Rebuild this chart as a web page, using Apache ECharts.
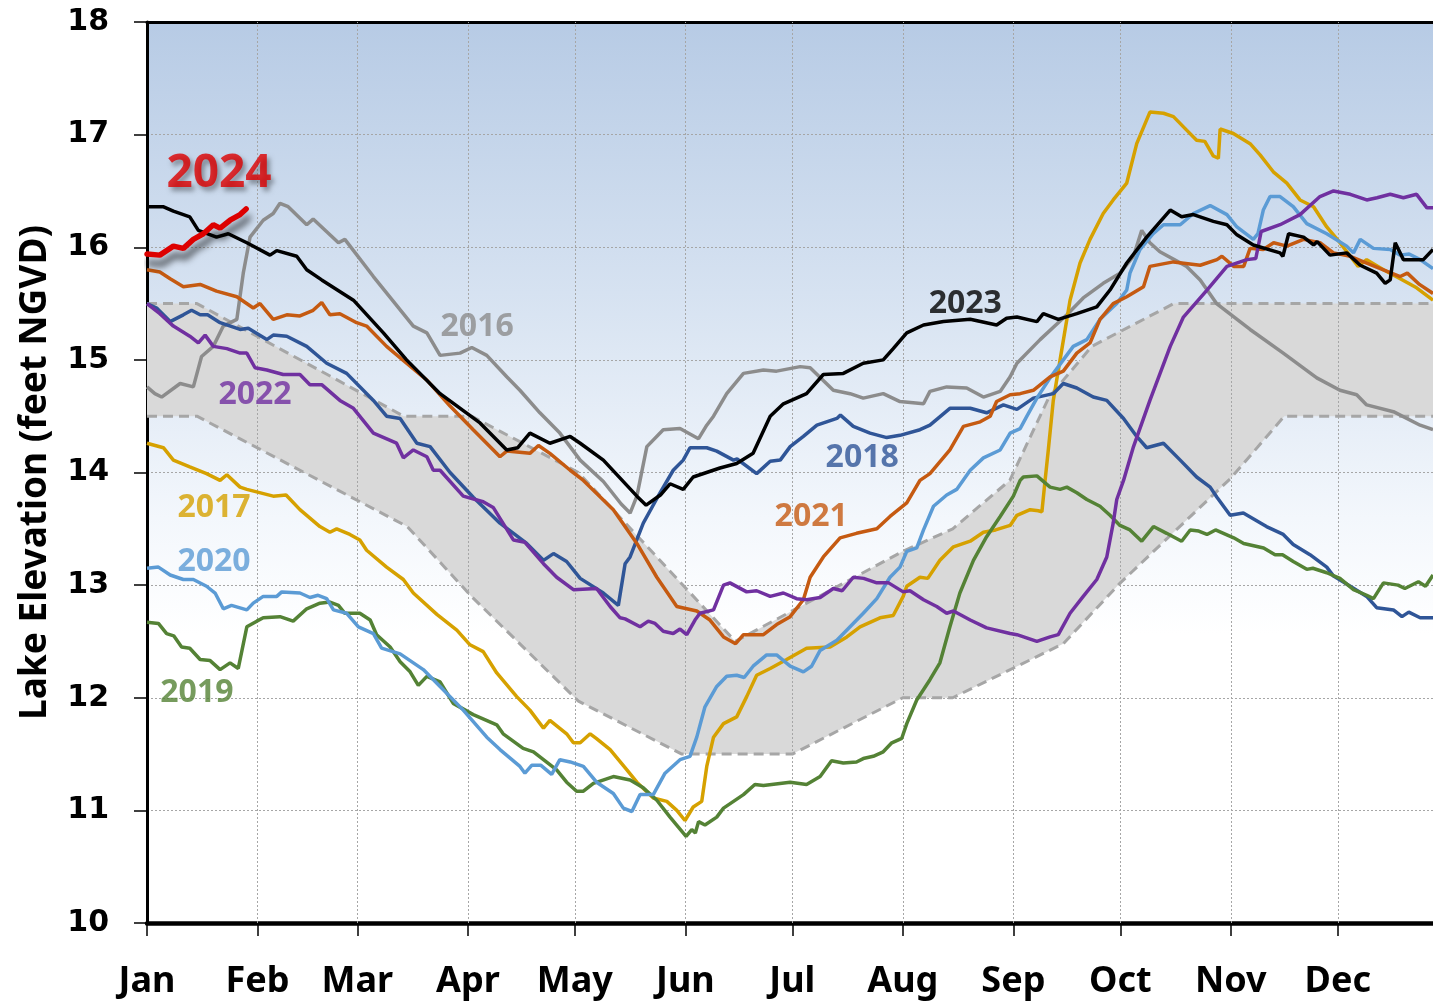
<!DOCTYPE html>
<html>
<head>
<meta charset="utf-8">
<script src="https://cdn.jsdelivr.net/npm/echarts@6/dist/echarts.min.js"></script>
<style>
html,body{margin:0;padding:0;background:#fff;}
#chart{width:1433px;height:1001px;}
</style>
</head>
<body>
<div id="chart"></div>
<script>
// ---- axis definitions ----
const monthDays = [0, 31, 59, 90, 120, 151, 181, 212, 243, 273, 304, 334];
const monthNames = ['Jan','Feb','Mar','Apr','May','Jun','Jul','Aug','Sep','Oct','Nov','Dec'];
const yTicks = [10, 11, 12, 13, 14, 15, 16, 17, 18];

// ---- regulation band (day of year, feet NGVD) ----
const bandUpper = [[0,15.5],[14,15.5],[72,14.5],[91,14.5],[121,14.0],[165,12.5],[212,13.3],[226,13.5],[242,13.93],[253,14.67],[265,15.12],[288,15.5],[361,15.5]];
const bandLower = [[0,14.5],[14,14.5],[73,13.52],[91,12.9],[121,11.97],[150,11.5],[181,11.5],[212,12.0],[226,12.0],[257,12.48],[273,13.02],[304,13.95],[319,14.5],[361,14.5]];

// ---- yearly lake elevations ----
const y2016 = [[0,14.76],[2.2,14.70],[4.1,14.67],[9.3,14.79],[13,14.76],[15.3,15.03],[18.6,15.12],[21.4,15.30],[25.2,15.36],[27,15.77],[28.9,16.09],[32.6,16.24],[35.4,16.30],[37.3,16.39],[39.6,16.36],[44.8,16.20],[46.6,16.25],[53.7,16.04],[55.5,16.07],[63.5,15.74],[74.7,15.30],[78.5,15.24],[82.2,15.04],[87.8,15.06],[91.1,15.11],[95.3,15.04],[100.9,14.85],[104.6,14.73],[110.2,14.53],[115.8,14.35],[121.5,14.11],[128,13.92],[133,13.72],[135.5,13.64],[137.4,13.79],[140.2,14.23],[144.8,14.38],[149.5,14.39],[154.7,14.30],[157,14.42],[158.9,14.50],[162.6,14.70],[167.3,14.88],[172.9,14.91],[176.6,14.90],[183.2,14.94],[186,14.93],[192.5,14.73],[197.2,14.70],[200.9,14.66],[206.5,14.70],[211.2,14.63],[217.8,14.61],[219.6,14.72],[224.3,14.76],[229.9,14.75],[234.6,14.67],[239.3,14.72],[242.1,14.85],[244,14.97],[250.5,15.18],[258,15.40],[262.6,15.55],[268.2,15.68],[272.9,15.77],[276.7,15.92],[279,16.15],[281.3,16.04],[284.1,15.96],[291.6,15.83],[295.4,15.71],[300,15.50],[309.4,15.27],[318.7,15.06],[328.1,14.84],[334.6,14.73],[339.3,14.69],[342.1,14.60],[349.6,14.54],[357.1,14.42],[360.7,14.38]];
const y2017 = [[0,14.26],[4.6,14.22],[7.4,14.11],[12,14.05],[16.7,13.99],[20.5,13.93],[22.4,13.98],[26.1,13.87],[28,13.85],[35.4,13.79],[39,13.80],[42.9,13.67],[48.5,13.52],[51.3,13.47],[53.2,13.50],[56.9,13.45],[59.7,13.40],[61.6,13.31],[67.2,13.16],[71.9,13.05],[74.7,12.93],[81.3,12.74],[86.9,12.60],[90.6,12.47],[94.3,12.41],[98.1,12.22],[103.7,12.01],[107.4,11.89],[111.2,11.73],[113,11.80],[117.7,11.68],[119.6,11.60],[121.5,11.60],[124.3,11.68],[126,11.64],[129.9,11.54],[134.6,11.36],[137.4,11.25],[142,11.11],[145.8,11.08],[148.6,11.00],[150.9,10.91],[153.2,11.03],[155.6,11.08],[157,11.39],[158.9,11.65],[161.7,11.77],[165.4,11.83],[168.2,12.01],[171,12.20],[174.8,12.26],[179.4,12.34],[185,12.44],[191.6,12.45],[196.3,12.54],[200,12.63],[205.6,12.71],[209.3,12.73],[212.1,12.90],[213.1,12.99],[216.8,13.07],[219,13.06],[222.4,13.22],[226.2,13.34],[230.9,13.39],[234.6,13.47],[238,13.49],[242.1,13.53],[244,13.62],[247.7,13.67],[250,13.66],[251,13.65],[251.9,13.93],[252.8,14.20],[254.2,14.64],[256.1,15.0],[258.9,15.53],[261.7,15.86],[264.5,16.07],[268.2,16.30],[271,16.42],[274.8,16.57],[277.6,16.92],[281.3,17.20],[285.1,17.19],[287.9,17.16],[291.6,17.04],[294.4,16.95],[296.7,16.94],[299.1,16.81],[300.5,16.79],[301,17.05],[304.7,17.01],[309.4,16.92],[312.2,16.82],[315.9,16.67],[319.7,16.57],[323.4,16.42],[327.2,16.36],[330.9,16.18],[334.6,16.04],[339.7,15.83],[342.1,15.89],[346.8,15.80],[351.5,15.72],[356.1,15.64],[360.7,15.53]];
const y2018 = [[0,15.50],[2.7,15.46],[6.5,15.34],[10.2,15.40],[12.5,15.44],[14.9,15.40],[17,15.40],[20.5,15.33],[26.1,15.27],[28.4,15.28],[33.6,15.18],[35.4,15.22],[39.2,15.21],[44.8,15.12],[50.4,14.97],[56,14.88],[63.5,14.64],[67.2,14.50],[71,14.48],[75.7,14.26],[79.4,14.23],[85,14.0],[91.5,13.78],[99,13.55],[106.5,13.37],[111.2,13.22],[114,13.28],[117.7,13.21],[121.5,13.06],[128,12.93],[132.2,12.82],[134.1,13.19],[135.5,13.25],[139.2,13.55],[143.9,13.82],[147.6,14.02],[150.4,14.11],[152.3,14.22],[157,14.22],[159.8,14.19],[164.5,14.11],[165.5,14.12],[171,13.99],[174.8,14.10],[177.6,14.11],[180.4,14.23],[184.1,14.32],[187.9,14.42],[193.5,14.48],[194.5,14.51],[198.1,14.41],[202.8,14.35],[207.5,14.31],[211.2,14.33],[216.8,14.38],[219.6,14.42],[225.2,14.57],[230.9,14.57],[235.5,14.53],[240.2,14.60],[244,14.56],[248.6,14.66],[254.2,14.70],[257,14.79],[260.8,14.75],[265.4,14.67],[269.2,14.64],[273.9,14.48],[277.6,14.32],[280.4,14.22],[285.1,14.26],[289.8,14.11],[294.4,13.96],[298.2,13.87],[300.1,13.78],[303.8,13.62],[307.5,13.64],[314,13.52],[318.7,13.45],[321.5,13.36],[326.2,13.27],[330.9,13.16],[332.8,13.08],[337.5,12.99],[342.1,12.90],[344.9,12.80],[349.6,12.78],[352,12.72],[353.9,12.76],[357.1,12.71],[360.7,12.71]];
const y2019 = [[0,12.67],[3.2,12.66],[5.5,12.57],[7.5,12.55],[9.7,12.45],[12,12.44],[14.9,12.34],[17.7,12.33],[20.5,12.25],[23.3,12.31],[25.6,12.26],[28,12.63],[30.8,12.68],[32.6,12.71],[37.3,12.72],[41,12.68],[44.8,12.79],[48.5,12.84],[51.3,12.85],[53.7,12.82],[55.5,12.75],[59.7,12.75],[62.6,12.69],[64.4,12.56],[68.2,12.45],[71,12.32],[73.8,12.23],[76.1,12.11],[78.5,12.19],[82.2,12.14],[85.9,11.95],[91.5,11.85],[98.1,11.76],[99.9,11.68],[105.5,11.55],[108.4,11.52],[114.9,11.36],[117.7,11.25],[120.5,11.17],[122.4,11.17],[125.2,11.24],[130.8,11.30],[135.5,11.27],[139.2,11.20],[143,11.09],[146.7,10.94],[151.2,10.77],[152.8,10.83],[153.8,10.80],[154.7,10.90],[156.5,10.87],[159.8,10.94],[161.7,11.02],[167.3,11.14],[170.5,11.23],[172.9,11.22],[180.4,11.25],[185,11.23],[188.8,11.30],[192,11.44],[195.3,11.42],[199,11.43],[200.9,11.46],[203.7,11.48],[206.5,11.52],[208.9,11.60],[211.7,11.64],[213.1,11.77],[215.9,11.98],[219.6,12.16],[222.4,12.31],[225.2,12.63],[228,12.93],[231.8,13.22],[235.5,13.43],[239.3,13.61],[243,13.79],[244.9,13.93],[245.8,13.96],[249.6,13.97],[253.3,13.87],[256.1,13.85],[258,13.87],[260.8,13.82],[263.6,13.76],[267.3,13.70],[270.1,13.62],[272.9,13.53],[275.7,13.49],[279,13.39],[282.3,13.52],[286,13.46],[290.2,13.39],[292.6,13.49],[295,13.48],[297.3,13.45],[299.7,13.49],[304.8,13.42],[307.6,13.37],[313.2,13.33],[316.4,13.27],[318.5,13.27],[321.5,13.21],[325.3,13.14],[327,13.15],[330.9,13.11],[334.6,13.06],[338.4,12.96],[342.1,12.91],[344,12.88],[346.8,13.02],[350.9,13.00],[352.8,12.97],[356.6,13.03],[358.6,12.99],[360.7,13.09]];
const y2020 = [[0,13.15],[3.2,13.16],[6.5,13.09],[10.2,13.05],[13,13.05],[16.7,12.99],[19.1,12.93],[21.4,12.79],[23.7,12.82],[28,12.78],[29.8,12.84],[32.6,12.90],[36.4,12.90],[37.8,12.94],[42.9,12.93],[45.7,12.89],[48,12.91],[50.4,12.88],[52.3,12.78],[56,12.75],[59.3,12.63],[63.5,12.57],[65.8,12.44],[71,12.39],[77.5,12.25],[82.2,12.10],[88.7,11.89],[95.3,11.65],[99,11.54],[104.6,11.39],[106,11.33],[107.9,11.40],[110.5,11.40],[113.5,11.32],[115.8,11.45],[118.7,11.43],[122.4,11.39],[126.1,11.25],[130.8,11.15],[133.6,11.02],[136,10.99],[138.3,11.14],[142,11.14],[145.3,11.33],[149.5,11.45],[152.3,11.48],[154.2,11.65],[156.5,11.92],[159.8,12.10],[162.6,12.19],[165.4,12.20],[167.5,12.18],[170,12.28],[173.8,12.38],[176.6,12.38],[180.4,12.28],[184.1,12.23],[186.4,12.28],[188.8,12.42],[193.5,12.51],[197.2,12.63],[200.9,12.75],[204.7,12.88],[208.4,13.07],[211.2,13.16],[213.1,13.30],[215.9,13.33],[217.8,13.49],[220.6,13.70],[224.3,13.80],[227.1,13.85],[230.9,14.02],[234.6,14.13],[239.3,14.20],[242.1,14.35],[244.9,14.39],[246.8,14.50],[249.6,14.66],[253.3,14.84],[257,15.0],[259.8,15.12],[263.6,15.18],[267.3,15.36],[272,15.50],[274.8,15.62],[275.7,15.77],[278.5,15.98],[282.2,16.12],[285.1,16.20],[289.8,16.20],[293.5,16.30],[298.2,16.37],[302.9,16.29],[305.7,16.18],[310.3,16.07],[311.6,16.12],[313.1,16.33],[315,16.45],[317.8,16.45],[321.5,16.36],[325.3,16.21],[330.9,16.12],[336.5,16.01],[338.4,15.95],[340.3,16.07],[344,15.99],[348.7,15.98],[351.5,15.93],[354,15.94],[357.1,15.89],[360.7,15.81]];
const y2021 = [[0,15.80],[3.6,15.78],[6.5,15.72],[10.2,15.65],[14.9,15.67],[19.5,15.61],[25.2,15.56],[29.8,15.46],[31.7,15.50],[35.4,15.36],[39.2,15.40],[42.9,15.39],[46.6,15.44],[49,15.51],[51.3,15.40],[54.1,15.41],[58.8,15.33],[61.6,15.30],[67.2,15.12],[72.8,14.97],[78.5,14.82],[85,14.59],[91.5,14.38],[99,14.14],[100.9,14.19],[107.4,14.17],[109.8,14.24],[113,14.17],[118.7,14.02],[122.4,13.93],[130.8,13.67],[137.4,13.37],[143,13.07],[148.6,12.81],[154.2,12.77],[157.9,12.69],[161.7,12.54],[165.1,12.48],[167.3,12.56],[172.9,12.56],[176.6,12.65],[180.4,12.72],[184.1,12.87],[186,13.07],[189.7,13.25],[194.4,13.42],[199,13.46],[204.7,13.50],[208.4,13.61],[213.1,13.73],[216.8,13.93],[219.6,13.99],[225.2,14.20],[229,14.41],[233.7,14.45],[236.5,14.50],[238.3,14.63],[242.1,14.69],[244.9,14.70],[248.6,14.73],[253.3,14.85],[257,14.90],[260.8,15.06],[264.5,15.15],[267.3,15.36],[271,15.50],[274.8,15.56],[279.5,15.65],[281.3,15.83],[287.9,15.87],[295.4,15.84],[300.1,15.89],[301.5,15.92],[304.8,15.83],[307.6,15.83],[309.4,15.99],[313.1,15.98],[316,16.04],[319.7,16.01],[324.4,16.07],[329,16.04],[332.8,15.95],[337.5,15.92],[342.1,15.86],[351.5,15.74],[353.5,15.77],[356.9,15.67],[360.7,15.59]];
const y2022 = [[0,15.50],[3.6,15.41],[7.4,15.30],[12,15.21],[14.4,15.15],[16.3,15.22],[18.6,15.12],[22.4,15.10],[26.1,15.06],[28,15.06],[30.3,14.93],[33.6,14.91],[38.2,14.87],[42.9,14.87],[45.7,14.78],[49,14.78],[54.1,14.64],[57.9,14.57],[63.5,14.35],[70,14.26],[71.9,14.13],[74.7,14.20],[78.5,14.14],[80.3,14.02],[82.2,14.02],[88.7,13.79],[94.3,13.74],[97.1,13.69],[102.8,13.40],[106,13.38],[111.2,13.19],[114.9,13.07],[119.6,12.96],[126.1,12.97],[129.9,12.81],[132.7,12.71],[134.1,12.70],[138.3,12.63],[140.6,12.68],[142.5,12.66],[144.8,12.59],[147.6,12.57],[149.5,12.61],[151.4,12.56],[153.7,12.69],[155.1,12.75],[158.9,12.78],[161.7,13.00],[163.5,13.02],[168.2,12.94],[171,12.95],[174.8,12.90],[178.5,12.93],[182.2,12.88],[185,12.87],[188.8,12.89],[192.5,12.97],[195,12.95],[198.1,13.07],[201,13.06],[204.7,13.02],[208,13.02],[212.1,12.94],[214,12.95],[217.8,12.87],[221.5,12.81],[224.3,12.75],[226.2,12.77],[230.9,12.69],[235.5,12.62],[242.1,12.57],[244,12.56],[249.6,12.50],[253.3,12.54],[255.6,12.56],[258.9,12.75],[262.6,12.90],[266.4,13.05],[269.2,13.25],[271,13.55],[272,13.76],[273.9,13.93],[276.7,14.23],[281.3,14.64],[287,15.12],[290.7,15.38],[297.3,15.62],[302.9,15.83],[308.5,15.89],[311,15.90],[312.5,16.14],[317.8,16.20],[323.4,16.29],[329,16.45],[332.8,16.50],[337.5,16.47],[342.1,16.42],[345,16.44],[348.7,16.47],[352.4,16.44],[356.1,16.47],[359,16.35],[360.7,16.35]];
const y2023 = [[0,16.36],[4.5,16.36],[7.4,16.32],[12,16.27],[14.4,16.15],[19.5,16.09],[22.8,16.12],[28,16.04],[34.5,15.93],[36.4,15.97],[42,15.92],[44.8,15.80],[49,15.71],[57.9,15.53],[66.3,15.24],[72.8,15.0],[82.2,14.70],[93.4,14.44],[100.9,14.20],[104,14.22],[107.4,14.35],[113,14.26],[118.7,14.32],[121.5,14.26],[128,14.11],[137.4,13.79],[140,13.71],[144,13.80],[146.7,13.90],[150.4,13.85],[153.2,13.96],[160.7,14.04],[165.4,14.08],[170,14.17],[174.8,14.5],[178.5,14.61],[185,14.70],[189.7,14.87],[195.3,14.88],[200.9,14.97],[206.5,15.0],[209.3,15.10],[213.1,15.24],[217.8,15.31],[223.4,15.34],[230.9,15.36],[238.3,15.31],[241.1,15.37],[244,15.38],[249.6,15.34],[251.4,15.41],[255.6,15.36],[260.8,15.41],[266.4,15.47],[270.1,15.62],[274.8,15.86],[280.4,16.09],[287,16.33],[290.2,16.27],[293.5,16.29],[299.1,16.23],[302.9,16.20],[305.7,16.11],[310.3,16.02],[317.8,15.95],[318.6,15.92],[320.2,16.12],[324.4,16.09],[327.2,16.02],[328.2,16.05],[331.8,15.93],[336.5,15.95],[340.3,15.84],[344.9,15.77],[347.3,15.68],[348.7,15.71],[350.1,16.04],[352.4,15.89],[358,15.89],[360.7,15.98]];
const y2024 = [[0,15.94],[3.6,15.93],[7.4,16.01],[10.2,15.99],[13,16.07],[15.8,16.12],[18.6,16.20],[20.5,16.17],[23.3,16.24],[26.1,16.29],[27.8,16.34]];

// ---- series labels (text, day, elevation) ----
const labelTexts = ['2016','2022','2017','2020','2019','2023','2018','2021','2024'];
const labelDays  = [92.6, 30.3, 18.8, 18.8, 14.0, 229.5, 200.6, 186.3, 20.2];
const labelVals  = [15.29, 14.69, 13.69, 13.21, 12.04, 15.50, 14.13, 13.61, 16.65];

const colors = {
  '2016':'#8c8c8c','2017':'#d6a100','2018':'#2f5597','2019':'#548235','2020':'#5b9bd5',
  '2021':'#c55a11','2022':'#7030a0','2023':'#000000','2024':'#dd0000'
};
const yearData = {'2016':y2016,'2017':y2017,'2018':y2018,'2019':y2019,'2020':y2020,'2021':y2021,'2022':y2022,'2023':y2023,'2024':y2024};

const chart = echarts.init(document.getElementById('chart'), null, {renderer:'canvas'});

const lineSeries = Object.keys(yearData).map(yr => ({
  name: yr, type:'line', data: yearData[yr], showSymbol:false, symbol:'none',
  z: yr === '2024' ? 8 : 5,
  lineStyle: yr === '2024'
    ? {color: colors[yr], width: 5.5, shadowColor:'rgba(0,0,0,0.65)', shadowBlur:7, shadowOffsetX:2, shadowOffsetY:9, cap:'round'}
    : {color: colors[yr], width: 3.5}
}));

const option = {
  animation: false,
  backgroundColor: '#ffffff',
  grid: {
    left: 147, right: 0, top: 22, bottom: 78, show: true, borderWidth: 0,
    backgroundColor: new echarts.graphic.LinearGradient(0,0,0,1,[
      {offset:0, color:'#b7cbe5'},
      {offset:0.3, color:'#d6e2f1'},
      {offset:0.55, color:'#f3f7fc'},
      {offset:0.68, color:'#ffffff'},
      {offset:1, color:'#ffffff'}
    ])
  },
  xAxis: [{
    type:'value', min:0, max:360.7, position:'bottom',
    axisLine:{show:true, onZero:false, lineStyle:{color:'#000', width:4.5}},
    axisTick:{show:true, customValues: monthDays, length:13, lineStyle:{color:'#000', width:1.5}},
    axisLabel:{show:true, customValues: monthDays, margin:41,
      formatter: v => monthNames[monthDays.indexOf(v)] || '',
      fontFamily:'Noto Sans', fontWeight:'bold', fontSize:36, color:'#000'},
    splitLine:{show:false}
  },{
    type:'value', min:0, max:360.7, position:'top',
    axisLine:{show:true, onZero:false, lineStyle:{color:'#000', width:3}},
    axisTick:{show:false}, axisLabel:{show:false}, splitLine:{show:false}
  }],
  yAxis: {
    type:'value', min:10, max:18, interval:1,
    name:'Lake Elevation (feet NGVD)', nameLocation:'middle', nameGap:93,
    nameTextStyle:{fontFamily:'Noto Sans', fontWeight:'bold', fontSize:37, color:'#000'},
    axisLine:{show:true, lineStyle:{color:'#000', width:3}},
    axisTick:{show:true, length:13, lineStyle:{color:'#000', width:1.5}},
    axisLabel:{margin:38, fontFamily:'DejaVu Sans', fontWeight:'bold', fontSize:30, color:'#000',
      formatter: v => yTicks.indexOf(v) >= 0 ? String(v) : ''},
    splitLine:{show:true, lineStyle:{color:'#a6a6a6', type:[2,2], width:1}}
  },
  series: [
    {
      // vertical month gridlines
      type:'line', data:[], z:1, silent:true,
      markLine:{silent:true, symbol:['none','none'], label:{show:false}, animation:false,
        lineStyle:{color:'#a6a6a6', type:[2,2], width:1},
        data: monthDays.slice(1).map(d => ({xAxis:d}))}
    },
    {
      type:'custom', z:2, silent:true, clip:true,
      data:[[0,15]],
      renderItem: (params, api) => {
        if (params.dataIndex !== 0) return null;
        const pts = bandUpper.map(p => api.coord(p))
          .concat(bandLower.slice().reverse().map(p => api.coord(p)));
        return {type:'polygon', shape:{points:pts}, style:{fill:'#d9d9d9'}};
      }
    },
    {type:'line', data:bandUpper, z:3, showSymbol:false, symbol:'none', silent:true,
      lineStyle:{color:'#a6a6a6', width:3, type:[10,6]}},
    {type:'line', data:bandLower, z:3, showSymbol:false, symbol:'none', silent:true,
      lineStyle:{color:'#a6a6a6', width:3, type:[10,6]}},
    ...lineSeries,
    {
      type:'scatter', z:10, symbolSize:0, silent:true,
      data: labelTexts.map((t,i) => ({
        value:[labelDays[i], labelVals[i]], name:t,
        label: t === '2024'
          ? {fontSize:46, color:colors[t], textShadowColor:'rgba(0,0,0,0.45)', textShadowBlur:5, textShadowOffsetX:3, textShadowOffsetY:4}
          : {fontSize:32, color:colors[t]}
      })),
      label:{show:true, position:'inside', formatter: p => p.name, fontFamily:'Noto Sans', fontWeight:'bold'}
    }
  ]
};
chart.setOption(option);
</script>
</body>
</html>
